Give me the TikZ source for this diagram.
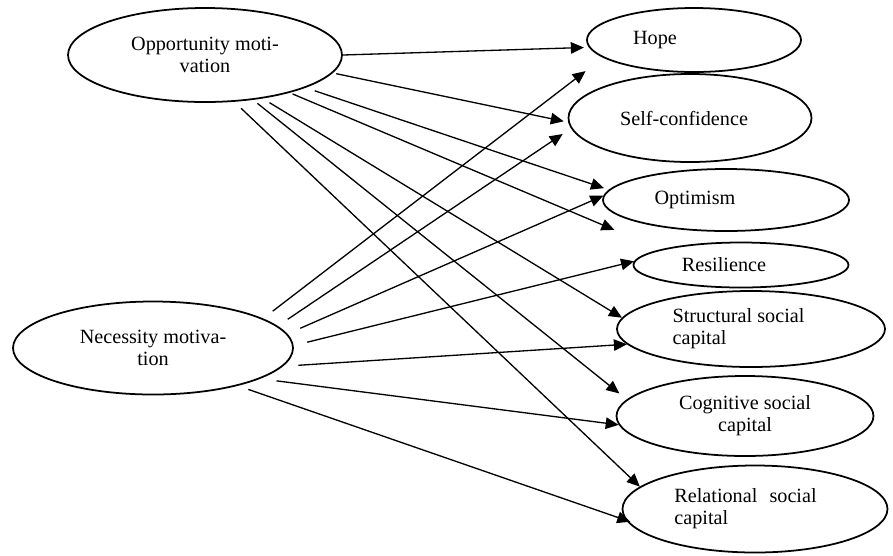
\documentclass[tikz,border=0pt]{standalone}
\usepackage{fontspec}
\setmainfont{Liberation Serif}
\usetikzlibrary{arrows.meta,shapes.geometric}

\begin{document}
\begin{tikzpicture}[font=\fontsize{11.5}{12.4}\selectfont,
  e/.style={ellipse,draw,line width=1pt,inner sep=0pt},
  ar/.style={-{Triangle[length=2.6mm,width=2.3mm]},line width=0.75pt}]
  \useasboundingbox (0,0) rectangle (17.86,-11.10);
  % motivations
  \node[e,minimum width=5.48cm,minimum height=1.88cm,label={[align=center]center:{Opportunity moti-\\vation}}] (opp) at (4.10,-1.10) {};
  \node[e,minimum width=5.60cm,minimum height=1.86cm,label={[align=center]center:{Necessity motiva-\\tion}}] (nec) at (3.06,-6.96) {};
  % outcomes
  \node[e,minimum width=4.28cm,minimum height=1.28cm,label={[xshift=-0.78cm]center:Hope}] (hope) at (13.88,-0.80) {};
  \node[e,minimum width=4.86cm,minimum height=1.76cm,label={[xshift=-0.12cm]center:Self-confidence}] (self) at (13.80,-2.36) {};
  \node[e,minimum width=4.92cm,minimum height=1.24cm,label={[xshift=-0.62cm]center:Optimism}] (opt) at (14.52,-4.00) {};
  \node[e,minimum width=4.30cm,minimum height=0.90cm,label={[xshift=-0.34cm]center:Resilience}] (res) at (14.82,-5.30) {};
  \node[e,minimum width=5.36cm,minimum height=1.52cm,label={[align=left,xshift=-0.25cm]center:{Structural social\\capital}}] (str) at (15.02,-6.58) {};
  \node[e,minimum width=5.14cm,minimum height=1.60cm,label={[align=center]center:{Cognitive social\\capital}}] (cog) at (14.90,-8.32) {};
  \node[e,minimum width=5.30cm,minimum height=1.74cm,label={[align=left,xshift=-0.19cm]center:{Relational\hspace{0.6em}social\\capital}}] (rel) at (15.10,-10.18) {};
  % paths from opportunity motivation
  \draw[ar,shorten >=1mm] (opp.0.4) -- (hope.184.2);
  \draw[ar,shorten <=0.7mm,shorten >=0.9mm] (opp.-8.9) -- (self.182.3);
  \draw[ar,shorten <=1.9mm,shorten >=1mm] (opp.-18.6) -- (opt.175.8);
  \draw[ar,shorten <=0.6mm,shorten >=10mm] (opp.-24.9) -- (res.169.5);
  \draw[ar,shorten <=1.6mm] (opp.-37.7) -- (str.175.1);
  \draw[ar,shorten <=1.1mm,shorten >=1.9mm] (opp.-43.8) -- (cog.172.9);
  \draw[ar,shorten <=1.9mm] (opp.-58.6) -- (rel.169.2);
  % paths from necessity motivation
  \draw[ar,shorten <=2.4mm,shorten >=4.4mm] (nec.15.4) -- (hope.191.9);
  \draw[ar,shorten <=2.4mm,shorten >=2mm] (nec.10.6) -- (self.185.4);
  \draw[ar,shorten <=2.8mm] (nec.6.6) -- (opt.178.6);
  \draw[ar,shorten <=2.8mm] (nec.1.5) -- (res.178.9);
  \draw[ar,shorten <=3.1mm] (nec.-8.3) -- (str.187.4);
  \draw[ar,shorten <=3.3mm] (nec.-16.7) -- (cog.184.1);
  \draw[ar,shorten <=2.2mm,shorten >=-0.9mm] (nec.-24.1) -- (rel.185.6);
\end{tikzpicture}
\end{document}
